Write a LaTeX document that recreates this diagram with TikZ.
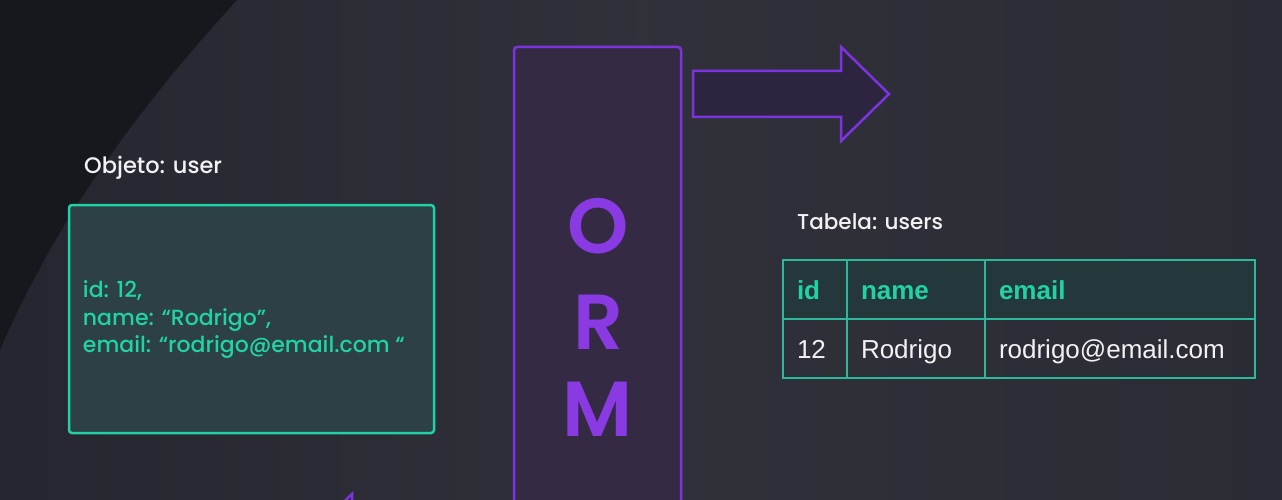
\documentclass[tikz,border=0pt]{standalone}
\usepackage{fontspec}
\setmainfont{Poppins}[UprightFont=* Medium, BoldFont=* SemiBold]
\newfontfamily\arialfont{Liberation Sans}
\usepackage{tikz}
\usepackage{xcolor}
\usetikzlibrary{positioning}

\definecolor{bgbase}{HTML}{262630}
\definecolor{bgdark}{HTML}{17171E}
\definecolor{tealline}{HTML}{1FD1A5}
\definecolor{tealtext}{HTML}{21D3A4}
\definecolor{tabline}{HTML}{2BB89B}
\definecolor{objfill}{HTML}{2C4045}
\definecolor{headfill}{HTML}{24373B}
\definecolor{ormline}{HTML}{7B34E0}
\definecolor{ormfill}{HTML}{352A44}
\definecolor{ormtext}{HTML}{8A3AE3}
\definecolor{arrowfill}{HTML}{2D2540}
\definecolor{lighttext}{HTML}{F2F2F4}

\tikzset{
    caption/.style={anchor=base west, text=lighttext, inner sep=0pt, font=\fontsize{22.5}{26}\selectfont},
    cell/.style={draw=tabline, line width=1.5pt, minimum width=#1, text width=#1-28pt, inner xsep=14pt,
                 outer sep=0pt, minimum height=59pt, text height=19pt, text depth=0pt, align=left,
                 font=\arialfont\fontsize{26}{30}\selectfont},
    headcell/.style={cell=#1, fill=headfill, text=tealtext, font=\arialfont\bfseries\fontsize{26}{30}\selectfont},
    bodycell/.style={cell=#1, text=lighttext},
    ormletter/.style={text=ormtext, font=\bfseries\fontsize{78}{80}\selectfont, inner sep=0pt}
}

\begin{document}
\begin{tikzpicture}[x=1pt, y=-1pt]
                            \useasboundingbox (0,0) rectangle (1282,500);
                            \clip (0,0) rectangle (1282,500);
                            % background
                            \fill[bgbase] (0,0) rectangle (1282,500);
                            \shade[left color=bgbase, right color=bgbase!80!gray!60!bgbase, middle color=bgbase!90!white, opacity=0.5] (0,0) rectangle (1282,500);
                            \fill[bgdark] (0,0) -- (237,0) .. controls (150,95) and (60,210) .. (0,350) -- cycle;
                            % object side
                            \node[caption] (objlabel) at (84,173) {Objeto: user};
                            \node[draw=tealline, line width=2.5pt, fill=objfill, rounded corners=3pt,
                                  minimum width=365pt, minimum height=228pt] (obj) at (251.5,319) {};
                            \node[anchor=west, align=left, inner sep=0pt, text=tealtext,
                                  font=\fontsize{22}{27.5}\selectfont] (objtext) at ([xshift=15pt,yshift=-1pt]obj.west)
                                  {id: 12,\\name: “Rodrigo”,\\email: “rodrigo@email.com “};
                            % orm column
                            \node[draw=ormline, line width=2.5pt, fill=ormfill, rounded corners=3pt,
                                  minimum width=167pt, minimum height=520pt] (orm) at (597.5,307) {};
                            \node[ormletter] (o) at (598,226) {O};
                            \node[ormletter] (r) at (598,322) {R};
                            \node[ormletter] (m) at (598,409) {M};
                            % arrows
                            \draw[ormline, line width=2.5pt, fill=arrowfill, line join=miter]
                            (693,71) -- (841,71) -- (841,47) -- (889,94) -- (841,141) -- (841,117) -- (693,117) -- cycle;
                            \draw[ormline, line width=2.5pt, fill=arrowfill]
                            (352,494) -- (304,541) -- (352,588) -- (352,564) -- (500,564) -- (500,518) -- (352,518) -- cycle;
                            % table side
                            \node[caption, font=\fontsize{21.5}{26}\selectfont] (tablabel) at (797,229) {Tabela: users};
                            \node[headcell=64pt] (h1) at (815,289.5) {id};
                            \node[headcell=138pt, right=0pt of h1] (h2) {name};
                            \node[headcell=270pt, right=0pt of h2] (h3) {email};
                            \node[bodycell=64pt, below=0pt of h1] (b1) {12};
                            \node[bodycell=138pt, below=0pt of h2] (b2) {Rodrigo};
                            \node[bodycell=270pt, below=0pt of h3] (b3) {rodrigo@email.com};
                        \end{tikzpicture}
\end{document}
